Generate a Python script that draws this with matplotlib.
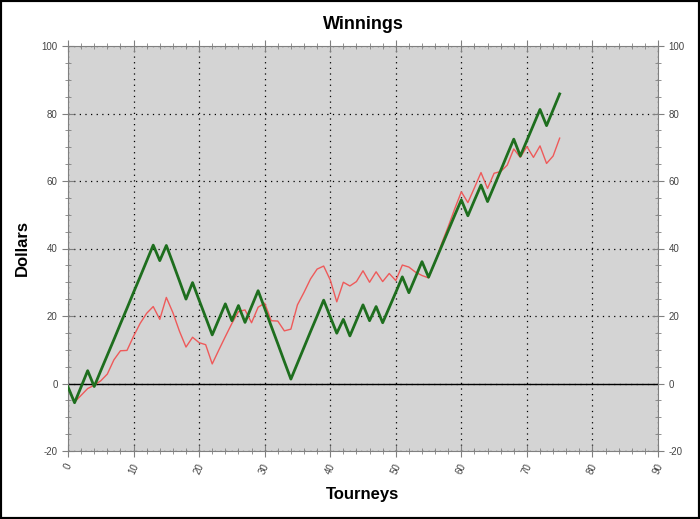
import matplotlib
matplotlib.use('Agg')
import matplotlib.pyplot as plt
from matplotlib.patches import Rectangle
from matplotlib.ticker import MultipleLocator

plt.rcParams['font.family'] = ['Liberation Sans', 'DejaVu Sans']
plt.rcParams['axes.unicode_minus'] = False

# tourney number 0..75
tourneys = list(range(76))

# cumulative winnings (green, thick)
winnings = [-1.0, -5.7, -1.0, 3.8, -0.9, 3.8, 8.4, 13.0, 17.7, 22.3,
            27.0, 31.6, 36.3, 41.0, 36.4, 40.9, 35.7, 30.4, 25.0, 29.9,
            24.7, 19.6, 14.4, 19.0, 23.6, 18.6, 23.1, 18.1, 22.8, 27.5,
            22.3, 17.0, 11.8, 6.5, 1.3, 6.0, 10.7, 15.4, 20.0, 24.7,
            19.8, 14.9, 19.0, 14.1, 18.7, 23.3, 18.6, 22.8, 18.0, 22.5,
            27.0, 31.6, 26.9, 31.5, 36.1, 31.5, 36.1, 40.7, 45.3, 49.9,
            54.4, 49.7, 54.3, 58.8, 53.9, 58.5, 63.1, 67.8, 72.4, 67.4,
            72.0, 76.6, 81.2, 76.4, 81.1, 85.8]

# second series (red, thin)
expected = [-1.0, -5.5, -3.5, -1.5, -0.5, 0.8, 2.8, 7.0, 9.7, 9.8,
            14.0, 17.8, 20.8, 22.8, 19.0, 25.5, 21.0, 15.5, 10.8, 13.7,
            12.1, 11.5, 5.8, 9.9, 13.9, 17.8, 21.3, 21.8, 18.0, 22.6,
            23.8, 18.6, 18.5, 15.6, 16.1, 23.3, 27.0, 31.0, 33.9, 34.8,
            30.7, 24.2, 30.0, 28.9, 30.2, 33.4, 30.0, 33.1, 30.2, 32.6,
            30.5, 35.1, 34.5, 33.0, 32.0, 31.3, 36.0, 41.5, 46.5, 51.8,
            56.8, 53.6, 58.0, 62.5, 57.8, 62.3, 62.8, 64.7, 69.5, 67.0,
            70.2, 67.0, 70.4, 65.2, 67.4, 72.7]

fig = plt.figure(figsize=(7.0, 5.19), dpi=100)
ax = fig.add_axes([68 / 700, 68 / 519, 590 / 700, 405 / 519])
ax.set_facecolor('#d4d4d4')

ax.plot(tourneys, expected, color='#ee5a5a', lw=1.0, zorder=3)
ax.plot(tourneys, winnings, color='#1e6e1e', lw=2.0, zorder=4)
ax.axhline(0, color='black', lw=1.0, zorder=2)

ax.set_xlim(0, 90)
ax.set_ylim(-20, 100)
ax.xaxis.set_major_locator(MultipleLocator(10))
ax.xaxis.set_minor_locator(MultipleLocator(2))
ax.yaxis.set_major_locator(MultipleLocator(20))
ax.yaxis.set_minor_locator(MultipleLocator(5))
ax.grid(True, which='major', color='black', linestyle=(0, (1, 3.5)), lw=0.9)

for s in ax.spines.values():
    s.set_color('#808080')

ax.tick_params(axis='both', which='both', colors='#808080', labelcolor='#444444',
               labelsize=7, direction='inout')
ax.tick_params(axis='both', which='major', length=8)
ax.tick_params(axis='both', which='minor', length=5)
ax.tick_params(axis='y', which='both', right=True, labelright=True)
ax.tick_params(axis='x', which='both', top=True)
for lab in ax.get_xticklabels():
    lab.set_rotation(65)

ax.set_title('Winnings', fontsize=13, fontweight='bold', pad=12)
ax.set_xlabel('Tourneys', fontsize=12, fontweight='bold', labelpad=8)
ax.set_ylabel('Dollars', fontsize=12, fontweight='bold', labelpad=8)

fig.patches.append(Rectangle((0, 0), 1, 1, transform=fig.transFigure,
                             fill=False, edgecolor='black', lw=3))

fig.savefig('out.png', dpi=100)
